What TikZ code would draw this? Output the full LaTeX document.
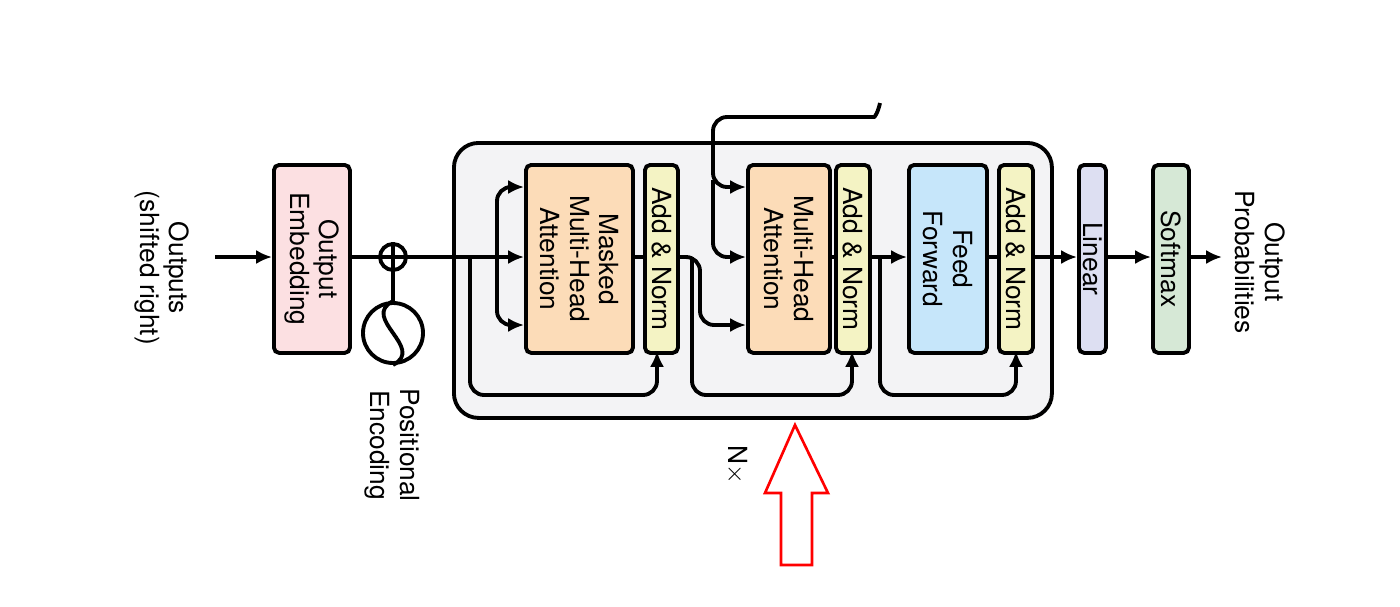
\documentclass[tikz,border=0pt]{standalone}
\usepackage{fontspec}
\setmainfont{TeX Gyre Heros}
\usetikzlibrary{arrows.meta}
\begin{document}
\begin{tikzpicture}[x=0.02cm,y=-0.02cm,
  lw/.style={line width=2.2pt},
  blk/.style={draw,lw,rounded corners=3pt,anchor=north west,inner sep=0pt},
  txt/.style={rotate=-90,align=center,font=\fontsize{15}{17}\selectfont},
  arr/.style={lw,-{Latex[length=9pt,width=8pt]},rounded corners=8pt},
  ln/.style={lw,rounded corners=8pt}]
\useasboundingbox (0,0) rectangle (1400,606);
\definecolor{pinkc}{HTML}{FCE0E2}
\definecolor{orc}{HTML}{FCDCB8}
\definecolor{yc}{HTML}{F4F3C4}
\definecolor{bc}{HTML}{C6E6FA}
\definecolor{lc}{HTML}{DDDFF2}
\definecolor{gc}{HTML}{D6E8D6}
\definecolor{bgc}{HTML}{F3F3F5}
% big block
\node[blk,fill=bgc,rounded corners=14pt,minimum width=598*0.02cm,minimum height=275*0.02cm] (N) at (452,141) {};
% boxes
\node[blk,fill=pinkc,minimum width=76*0.02cm,minimum height=188*0.02cm] (emb) at (272,163) {};
\node[txt] at (emb.center) {Output\\Embedding};
\node[blk,fill=orc,minimum width=107*0.02cm,minimum height=188*0.02cm] (mha1) at (524,163) {};
\node[txt] at (mha1.center) {Masked\\Multi-Head\\Attention};
\node[blk,fill=yc,minimum width=33*0.02cm,minimum height=188*0.02cm] (an1) at (643,163) {};
\node[txt] at (an1.center) {Add \& Norm};
\node[blk,fill=orc,minimum width=82*0.02cm,minimum height=188*0.02cm] (mha2) at (746,163) {};
\node[txt] at (mha2.center) {Multi-Head\\Attention};
\node[blk,fill=yc,minimum width=34*0.02cm,minimum height=188*0.02cm] (an2) at (834,163) {};
\node[txt] at (an2.center) {Add \& Norm};
\node[blk,fill=bc,minimum width=78*0.02cm,minimum height=188*0.02cm] (ff) at (907,163) {};
\node[txt] at (ff.center) {Feed\\Forward};
\node[blk,fill=yc,minimum width=34*0.02cm,minimum height=188*0.02cm] (an3) at (997,163) {};
\node[txt] at (an3.center) {Add \& Norm};
\node[blk,fill=lc,minimum width=27*0.02cm,minimum height=188*0.02cm] (lin) at (1077,163) {};
\node[txt] at (lin.center) {Linear};
\node[blk,fill=gc,minimum width=36*0.02cm,minimum height=188*0.02cm] (sm) at (1151,163) {};
\node[txt] at (sm.center) {Softmax};
% texts
\node[txt] (outs) at (162,268) {Outputs\\(shifted right)};
\node[txt] (pe) at (392,445) {Positional\\Encoding};
\node[txt] (op) at (1260,262) {Output\\Probabilities};
\node[txt] (nx) at (737,465) {N$\times$};
% plus and PE
\node[draw,lw,circle,minimum size=26*0.02cm,inner sep=0pt] (plus) at (393,257) {};
\draw[lw] (plus.north)--(plus.south) (plus.west)--(plus.east);
\node[draw,lw,circle,minimum size=60*0.02cm,inner sep=0pt] (pec) at (393,333) {};
\draw[lw] (pec.north) .. controls (360,318) and (426,348) .. (pec.south);
\draw[lw] (pec.north)--(plus.south);
% coordinates
\coordinate (in) at (215,257);
\coordinate (b1) at (470,257);
\coordinate (b2) at (497,257);
\coordinate (b3) at (692,257);
\coordinate (b4) at (880,257);
\coordinate (enc) at (880,103);
\coordinate (out) at (1222,257);
\draw[arr] (in)--(emb.west |- in);
\draw[lw] (emb.east |- in)--(plus.west);
\draw[arr] (plus.east)--(mha1.west |- in);
\draw[arr] (b2) |- (524,187);
\draw[arr] (b2) |- (524,325);
\draw[arr] (b1) |- (657,395) -- (657,351);
\draw[lw] (mha1.east |- in)--(an1.west |- in);
\draw[arr] (an1.east |- in) -- (700,257) -- (700,325) -- (746,325);
\draw[arr] (b3) |- (852,395) -- (852,351);
\draw[arr] (enc) .. controls (878,112) and (875,117) .. (860,117) -- (713,117) -- (713,187) -- (746,187);
\draw[arr] (713,180) -- (713,257) -- (746,257);
\draw[lw] (mha2.east |- in)--(an2.west |- in);
\draw[arr] (an2.east |- in)--(ff.west |- in);
\draw[arr] (b4) |- (1016,395) -- (1016,351);
\draw[lw] (ff.east |- in)--(an3.west |- in);
\draw[arr] (an3.east |- in)--(lin.west |- in);
\draw[arr] (lin.east |- in)--(sm.west |- in);
\draw[arr] (sm.east |- in)--(out);
% red hollow arrow
\draw[red,line width=1.5pt] (795,425) -- (828,493) -- (812,493) -- (812,565) -- (781,565) -- (781,493) -- (765,493) -- cycle;
\end{tikzpicture}
\end{document}
